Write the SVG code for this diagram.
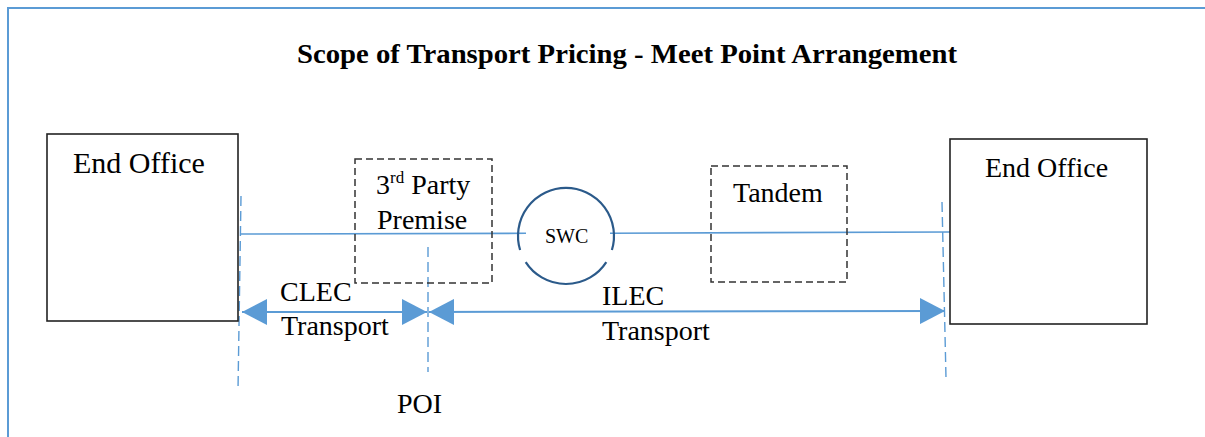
<svg xmlns="http://www.w3.org/2000/svg" width="1205" height="437" viewBox="0 0 1205 437" font-family="'Liberation Serif', 'Times New Roman', Times, serif">
<style>
  text { font-family: 'Liberation Serif', 'Times New Roman', Times, serif; fill: #000; }
  .lbl { font-size: 28px; }
  .box { fill: #fff; stroke: #222; stroke-width: 1.6; }
  .dbox { fill: none; stroke: #333; stroke-width: 1.5; stroke-dasharray: 7 4; }
  .blue { stroke: #5B9BD5; stroke-width: 1.6; fill: none; }
  .vdash { stroke: #5B9BD5; stroke-width: 1.4; stroke-dasharray: 10 5; fill: none; }
  .arr { stroke: #5B9BD5; stroke-width: 2; fill: none; marker-start: url(#ah); marker-end: url(#ah); }
</style>
<defs>
  <marker id="ah" markerUnits="userSpaceOnUse" markerWidth="25" markerHeight="26" viewBox="0 0 25 26" refX="25" refY="13" orient="auto-start-reverse">
    <path d="M0,0 L25,13 L0,26 z" fill="#5B9BD5"/>
  </marker>
</defs>
<rect width="1205" height="437" fill="#fff"/>
<g id="frame">
  <path d="M8,437 L8,8 L1205,8" stroke="#5B9BD5" stroke-width="2" fill="none"/>
</g>
<g id="title">
  <text x="297" y="63" font-size="28" font-weight="bold" textLength="660" lengthAdjust="spacingAndGlyphs">Scope of Transport Pricing - Meet Point Arrangement</text>
</g>
<g id="connectors">
  <path class="blue" d="M240,234 L526,233.3"/>
  <path class="blue" d="M610,233.2 L950,232"/>
  <path class="vdash" d="M241,196 L238,390"/>
  <path class="vdash" d="M428,247 L428,372"/>
  <path class="vdash" d="M942,202 L946,378"/>
  <path class="arr" d="M242,312 L427,312"/>
  <path class="arr" d="M429,312 L945,311"/>
</g>
<g id="end-office-left">
  <rect class="box" x="47" y="134" width="191" height="187"/>
  <text x="73" y="173" font-size="30">End Office</text>
</g>
<g id="third-party-premise">
  <rect class="dbox" x="355" y="159" width="137" height="124"/>
  <text class="lbl" x="376" y="194">3<tspan font-size="17" dy="-11">rd</tspan><tspan dy="11"> Party</tspan></text>
  <text class="lbl" x="377" y="229">Premise</text>
</g>
<g id="swc">
  <path d="M520.1,250 A48,48 0 1 1 611.9,250" stroke="#2B5A8A" stroke-width="2.2" fill="none"/>
  <path d="M606.3,262.1 A48,48 0 0 1 525.7,262.1" stroke="#2B5A8A" stroke-width="2.2" fill="none"/>
  <text x="545" y="243" font-size="20">SWC</text>
</g>
<g id="tandem">
  <rect class="dbox" x="711" y="166" width="136" height="116"/>
  <text class="lbl" x="733" y="202">Tandem</text>
</g>
<g id="end-office-right">
  <rect class="box" x="950" y="139" width="197" height="185"/>
  <text x="985" y="177" font-size="28">End Office</text>
</g>
<g id="labels">
  <text class="lbl" x="280" y="301" font-size="27">CLEC</text>
  <text class="lbl" x="281" y="335">Transport</text>
  <text class="lbl" x="602" y="305">ILEC</text>
  <text class="lbl" x="602" y="340">Transport</text>
  <text class="lbl" x="397" y="413">POI</text>
</g>
</svg>
